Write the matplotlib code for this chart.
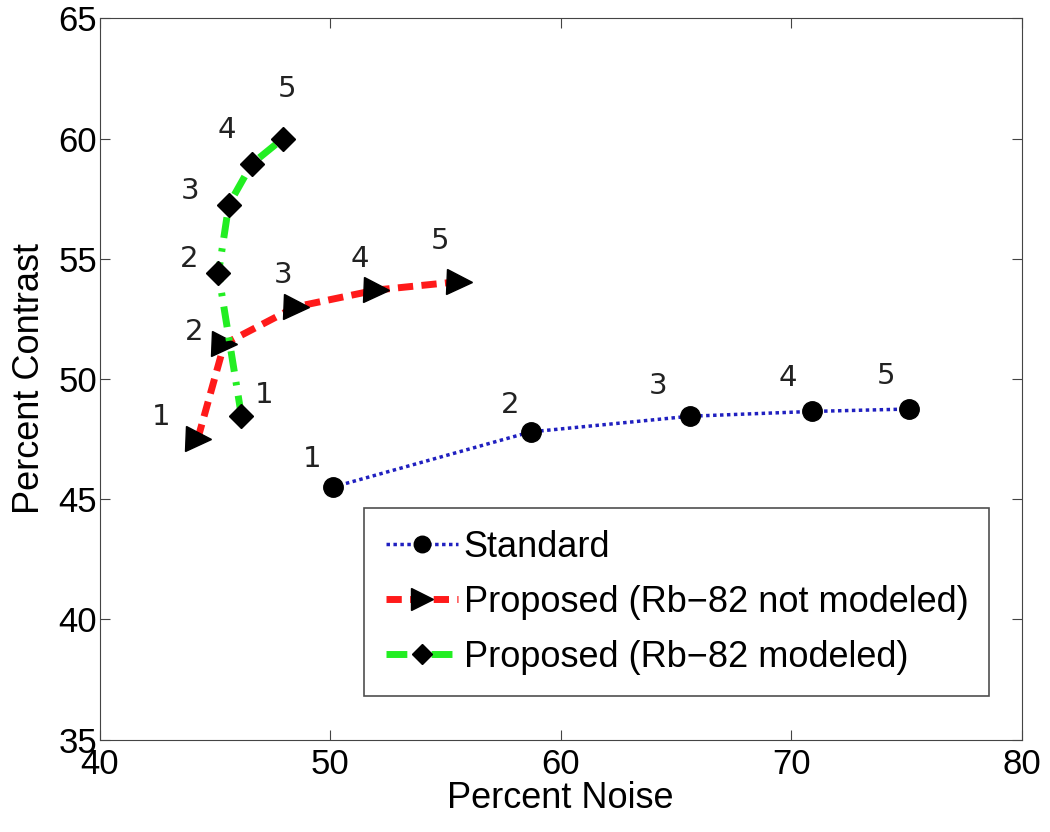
import matplotlib
matplotlib.use('Agg')
import matplotlib.pyplot as plt

plt.rcParams['font.family'] = ['Liberation Sans', 'DejaVu Sans']

# data
std_noise = [50.1, 58.7, 65.6, 70.9, 75.1]
std_contrast = [45.5, 47.8, 48.45, 48.65, 48.75]

nm_noise = [44.25, 45.4, 48.5, 52.0, 55.6]
nm_contrast = [47.5, 51.45, 53.0, 53.7, 54.05]

md_noise = [46.15, 45.15, 45.6, 46.6, 47.95]
md_contrast = [48.45, 54.4, 57.25, 58.95, 60.0]

point_labels = ['1', '2', '3', '4', '5']

# label offsets in points (dx, dy)
std_off = [(-15, 20), (-15, 19), (-23, 22), (-17, 24), (-16, 24)]
nm_off = [(-26, 16), (-22, 9), (-9, 23), (-12, 22), (-14, 29)]
md_off = [(16, 15), (-21, 10), (-28, 10), (-18, 24), (3, 36)]

fig = plt.figure(figsize=(10.5, 8.32), dpi=100)
ax = fig.add_axes([0.095, 0.111, 0.878, 0.867])

ax.plot(std_noise, std_contrast, linestyle=(0, (1, 1)), color='#2020c0', lw=2.5,
        marker='o', ms=14, mfc='black', mec='black', label='Standard')
ax.plot(nm_noise, nm_contrast, linestyle=(0, (2.2, 1.2)), color='#ff1a1a', lw=5,
        marker='>', ms=18, mfc='black', mec='black',
        label='Proposed (Rb\u221282 not modeled)')
ax.plot(md_noise, md_contrast, linestyle=(0, (3, 1.5, 0.5, 1.5)), color='#22ee22', lw=5,
        marker='D', ms=12, mfc='black', mec='black',
        label='Proposed (Rb\u221282 modeled)')

for xs, ys, offs in [(std_noise, std_contrast, std_off),
                     (nm_noise, nm_contrast, nm_off),
                     (md_noise, md_contrast, md_off)]:
    for x, y, lab, (dx, dy) in zip(xs, ys, point_labels, offs):
        ax.annotate(lab, (x, y), xytext=(dx, dy), textcoords='offset points',
                    ha='center', va='center', fontsize=21, family='DejaVu Sans',
                    color='#222222')

ax.set_xlim(40, 80)
ax.set_ylim(35, 65)
ax.set_xticks([40, 50, 60, 70, 80])
ax.set_yticks([35, 40, 45, 50, 55, 60, 65])
ax.tick_params(direction='in', top=True, right=True, labelsize=25, length=7,
               color='#444444')
ax.tick_params(axis='x', pad=6)
ax.tick_params(axis='y', pad=2)
for s in ax.spines.values():
    s.set_color('#444444')
ax.set_xlabel('Percent Noise', fontsize=26, labelpad=0)
ax.set_ylabel('Percent Contrast', fontsize=26, labelpad=8)

leg = ax.legend(loc='lower left', bbox_to_anchor=(0.287, 0.06, 0.678, 0.26),
                mode='expand', fontsize=26, frameon=True, fancybox=False,
                handlelength=2.0, handletextpad=0.15, borderpad=0.6,
                borderaxespad=0, labelspacing=0.55, markerscale=0.85)
leg.get_frame().set_edgecolor('#222222')
leg.get_frame().set_linewidth(1.2)

fig.savefig('out.png', dpi=100)
